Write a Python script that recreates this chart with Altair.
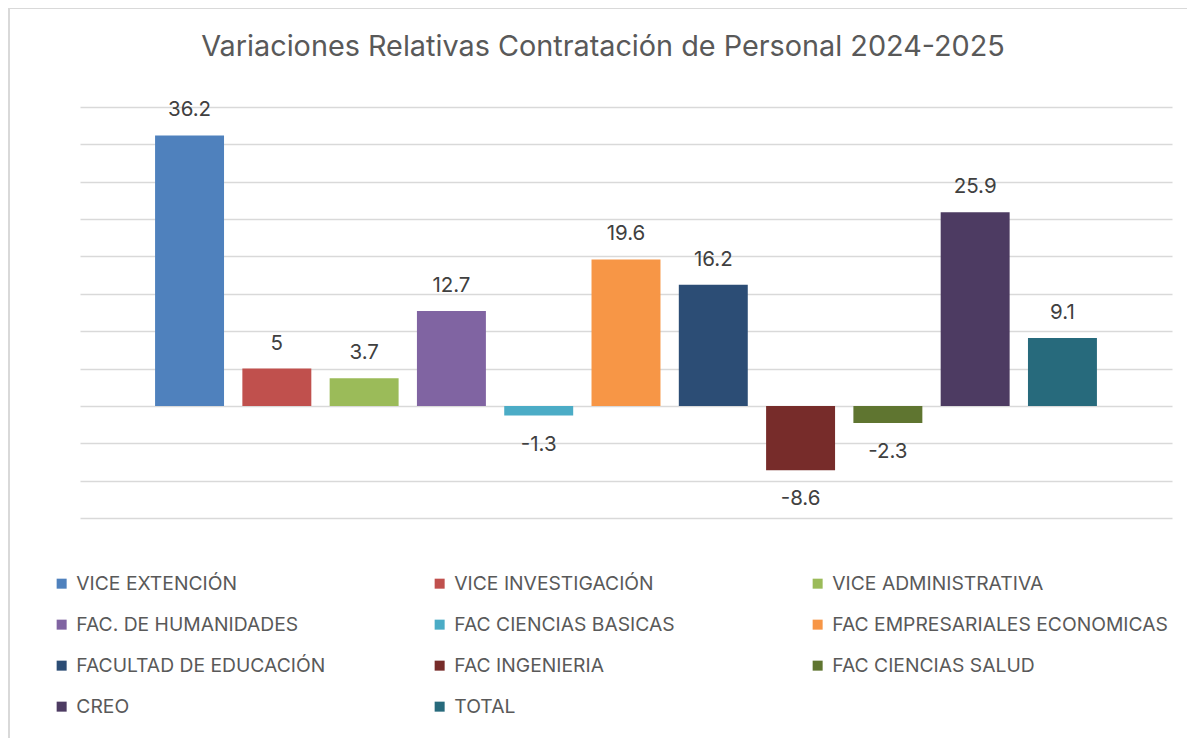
import altair as alt
import pandas as pd

categories = [
    "VICE EXTENCIÓN", "VICE INVESTIGACIÓN", "VICE ADMINISTRATIVA",
    "FAC. DE HUMANIDADES", "FAC CIENCIAS BASICAS", "FAC EMPRESARIALES ECONOMICAS",
    "FACULTAD DE EDUCACIÓN", "FAC INGENIERIA", "FAC CIENCIAS SALUD",
    "CREO", "TOTAL",
]
values = [36.2, 5, 3.7, 12.7, -1.3, 19.6, 16.2, -8.6, -2.3, 25.9, 9.1]
labels = ["36.2", "5", "3.7", "12.7", "-1.3", "19.6", "16.2", "-8.6", "-2.3", "25.9", "9.1"]
colors = [
    "#4F81BD", "#C0504D", "#9BBB59", "#8064A2", "#4BACC6", "#F79646",
    "#2C4D75", "#772C2A", "#5F7530", "#4D3B62", "#276A7C",
]
grid_values = [-15, -10, -5, 0, 5, 10, 15, 20, 25, 30, 35, 40]

df = pd.DataFrame({"cat": categories, "val": values, "lab": labels})

FONT = "Inter"

x = alt.X("cat:N", sort=categories, axis=None,
          scale=alt.Scale(paddingInner=0.21, paddingOuter=0.86))
yscale = alt.Scale(domain=[-15, 40], nice=False, zero=False)
y = alt.Y("val:Q", scale=yscale,
          axis=alt.Axis(values=grid_values, labels=False, ticks=False, domain=False,
                        grid=True, gridColor="#d9d9d9", gridWidth=1.5, title=None,
                        labelOverlap=False))

bars = alt.Chart(df).mark_bar().encode(
    x=x,
    y=y,
    color=alt.Color("cat:N", sort=categories,
                    scale=alt.Scale(domain=categories, range=colors),
                    legend=alt.Legend(
                        title=None, orient="none", legendX=-28, legendY=467,
                        direction="horizontal",
                        columns=3, gridAlign="all", columnPadding=18, rowPadding=21,
                        symbolType="square", symbolSize=100, symbolStrokeWidth=0,
                        labelFont=FONT, labelFontSize=19.3, labelColor="#595959",
                        labelLimit=500, labelOffset=5,
                    )),
)

text_pos = alt.Chart(df).transform_filter("datum.val >= 0").mark_text(
    font=FONT, fontSize=20.5, color="#404040", baseline="middle", dy=-25
).encode(x=x, y=y, text="lab:N")

text_neg = alt.Chart(df).transform_filter("datum.val < 0").mark_text(
    font=FONT, fontSize=20.5, color="#404040", baseline="middle", dy=29
).encode(x=x, y=y, text="lab:N")

border = alt.Chart(df).mark_rect(fill=None, stroke="#d9d9d9", strokeWidth=1.5).encode(
    x=alt.value(-71), x2=alt.value(1110), y=alt.value(-99), y2=alt.value(640),
)

chart = alt.layer(border, bars, text_pos, text_neg).properties(
    width=1092, height=411,
    autosize=alt.AutoSizeParams(type="none"),
    padding={"left": 72, "top": 99, "right": 15, "bottom": 220},
    title=alt.TitleParams(
        "Variaciones Relativas Contratación de Personal 2024-2025",
        font=FONT, fontSize=28.8, fontWeight="normal", color="#595959",
        anchor="middle", frame="group", offset=-55, dx=-23,
    ),
).configure_view(stroke=None)

chart.save("out.html", embed_options={"renderer": "svg", "actions": False})
